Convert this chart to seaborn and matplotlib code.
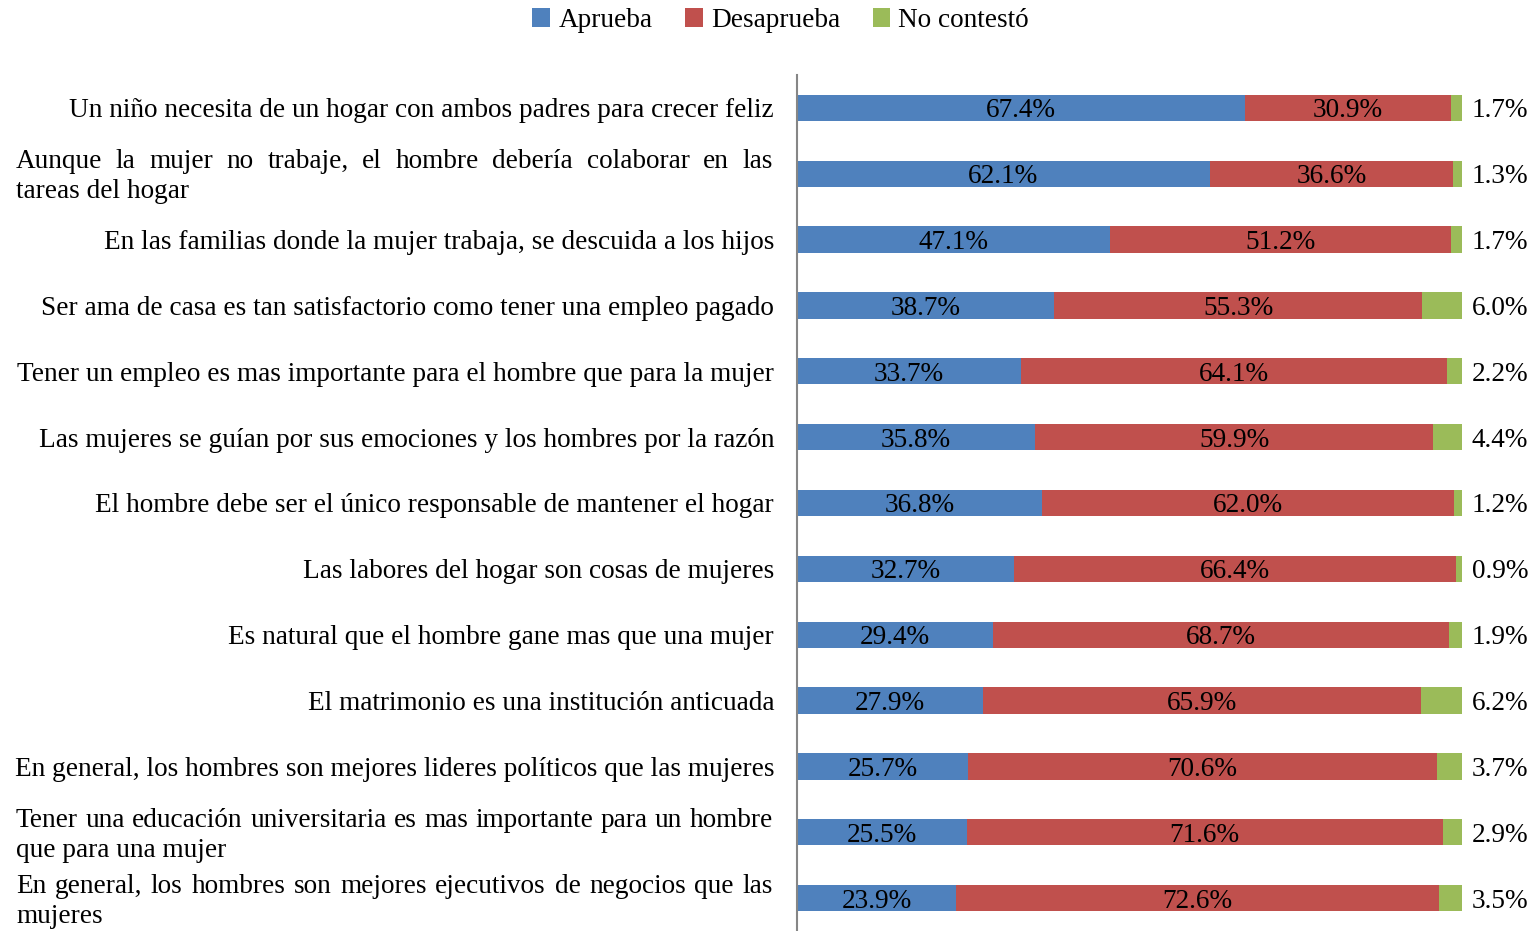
import numpy as np
import pandas as pd
import matplotlib
matplotlib.use("Agg")
import matplotlib.pyplot as plt
import matplotlib.transforms as mtransforms
import seaborn as sns

# datos de la encuesta (porcentajes)
categorias = [
    "Un niño necesita de un hogar con ambos padres para crecer feliz",
    "Aunque la mujer no trabaje, el hombre debería colaborar en las\ntareas del hogar",
    "En las familias donde la mujer trabaja, se descuida a los hijos",
    "Ser ama de casa es tan satisfactorio como tener una empleo pagado",
    "Tener un empleo es mas importante para el hombre que para la mujer",
    "Las mujeres se guían por sus emociones y los hombres por la razón",
    "El hombre debe ser el único responsable de mantener el hogar",
    "Las labores del hogar son cosas de mujeres",
    "Es natural que el hombre gane mas que una mujer",
    "El matrimonio es una institución anticuada",
    "En general, los hombres son mejores lideres políticos que las mujeres",
    "Tener una educación universitaria es mas importante para un hombre\nque para una mujer",
    "En general, los hombres son mejores ejecutivos de negocios que las\nmujeres",
]
aprueba = [67.4, 62.1, 47.1, 38.7, 33.7, 35.8, 36.8, 32.7, 29.4, 27.9, 25.7, 25.5, 23.9]
desaprueba = [30.9, 36.6, 51.2, 55.3, 64.1, 59.9, 62.0, 66.4, 68.7, 65.9, 70.6, 71.6, 72.6]
no_contesto = [1.7, 1.3, 1.7, 6.0, 2.2, 4.4, 1.2, 0.9, 1.9, 6.2, 3.7, 2.9, 3.5]

azul = "#4F81BD"
rojo = "#C0504D"
verde = "#9BBB59"

sns.set_style("white")
plt.rcParams["font.family"] = ["Liberation Serif", "DejaVu Serif"]
plt.rcParams["text.color"] = "black"
plt.rcParams["ytick.color"] = "black"
fs = 19.6

df = pd.DataFrame({"cat": categorias, "a": aprueba, "d": desaprueba, "n": no_contesto})
df["ad"] = df["a"] + df["d"]
df["total"] = df["ad"] + df["n"]

fig = plt.figure(figsize=(15.4, 9.31), dpi=100)
ax = fig.add_axes([797 / 1540, 0.0, (1462 - 797) / 1540, (931 - 75) / 931])

# barras apiladas: se dibuja el acumulado de atras hacia adelante
sns.barplot(data=df, x="total", y="cat", color=verde, width=0.4, label="No contestó",
            saturation=1, ax=ax, edgecolor="none")
sns.barplot(data=df, x="ad", y="cat", color=rojo, width=0.4, label="Desaprueba",
            saturation=1, ax=ax, edgecolor="none")
sns.barplot(data=df, x="a", y="cat", color=azul, width=0.4, label="Aprueba",
            saturation=1, ax=ax, edgecolor="none")

for i, row in df.iterrows():
    ax.text(row["a"] / 2, i, f"{row['a']:.1f}%", ha="center", va="center_baseline",
            fontsize=fs, color="black")
    ax.text(row["a"] + row["d"] / 2, i, f"{row['d']:.1f}%", ha="center", va="center_baseline",
            fontsize=fs, color="black")
    ax.text(105.7, i, f"{row['n']:.1f}%", ha="center", va="center_baseline",
            fontsize=fs, color="black")

ax.set_xlim(0, 100)
ax.set_ylim(len(categorias) - 0.5, -0.5)
ax.set_xlabel("")
ax.set_ylabel("")
ax.set_xticks([])

# etiquetas de una linea como ticklabels, las de dos lineas van justificadas a mano
etiquetas = [c if "\n" not in c else "" for c in categorias]
ax.set_yticks(range(len(categorias)))
ax.set_yticklabels(etiquetas, fontsize=fs, ha="right", color="black")
ax.tick_params(axis="y", which="major", length=0, pad=16.5)
ax.set_yticks(np.arange(-0.5, len(categorias), 1), minor=True)
ax.tick_params(axis="y", which="minor", length=5, width=1.3, color="#868686")

for s in ["top", "right", "bottom"]:
    ax.spines[s].set_visible(False)
ax.spines["left"].set_color("#868686")
ax.spines["left"].set_linewidth(1.5)

trans = mtransforms.blended_transform_factory(fig.transFigure, ax.transData)
x0, x1 = 16 / 1540, 773 / 1540
fig.canvas.draw()
r = fig.canvas.get_renderer()
for i, c in enumerate(categorias):
    if "\n" not in c:
        continue
    linea1, linea2 = c.split("\n")
    palabras = linea1.split(" ")
    textos = [ax.text(x0, i - 0.228, p, transform=trans, fontsize=fs, ha="left",
                      va="center_baseline", color="black") for p in palabras]
    anchos = [t.get_window_extent(r).width / 1540 for t in textos]
    hueco = ((x1 - x0) - sum(anchos)) / (len(palabras) - 1)
    pos = x0
    for t, w in zip(textos, anchos):
        t.set_x(pos)
        pos += w + hueco
    ax.text(x0, i + 0.228, linea2, transform=trans, fontsize=fs, ha="left",
            va="center_baseline", color="black")

handles, labels = ax.get_legend_handles_labels()
orden = [labels.index(l) for l in ["Aprueba", "Desaprueba", "No contestó"]]
leg = ax.legend([handles[k] for k in orden], [labels[k] for k in orden],
                loc="upper center", bbox_to_anchor=(0.507, 1.003), bbox_transform=fig.transFigure,
                ncol=3, frameon=False, fontsize=fs, handlelength=0.65, handleheight=0.65,
                handletextpad=0.3, columnspacing=1.2, borderaxespad=0)
for t in leg.get_texts():
    t.set_color("black")

fig.savefig("out.png", dpi=100)
